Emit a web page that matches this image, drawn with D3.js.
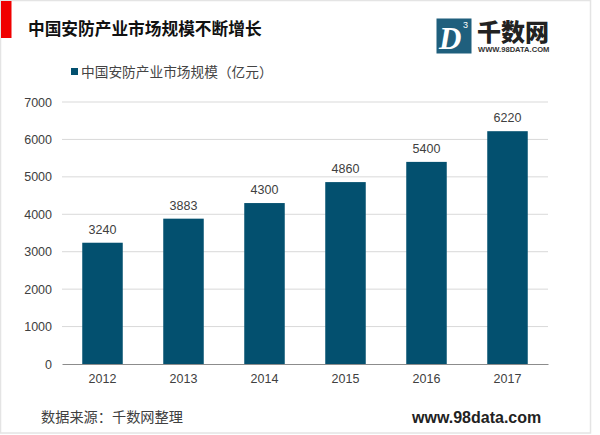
<!DOCTYPE html>
<html><head><meta charset="utf-8">
<script src="https://cdn.jsdelivr.net/npm/d3@7/dist/d3.min.js"></script>
<style>html,body{margin:0;padding:0;background:#fff}svg{display:block}
text{font-family:"Liberation Sans","Noto Sans CJK SC",sans-serif}</style></head>
<body><svg id="c" width="600" height="435"></svg>
<script>
const categories = ["2012","2013","2014","2015","2016","2017"];
const seriesValues = [3240,3883,4300,4860,5400,6220];
const yTicks = [0,1000,2000,3000,4000,5000,6000,7000];
const titleText = "中国安防产业市场规模不断增长";
const seriesName = "中国安防产业市场规模\uFF08亿元\uFF09";
const sourceText = "数据来源\uFF1A千数网整理";
const siteText = "www.98data.com";

const svg = d3.select("#c");
const barColor = "#03506f";
const x = d3.scaleBand().domain(categories).range([62,548]).paddingInner(0.5).paddingOuter(0.25);
const y = d3.scaleLinear().domain([0,7000]).range([364,102]);

// frame
svg.append("rect").attr("x",0.5).attr("y",0.5).attr("width",590).attr("height",432.5)
  .attr("fill","#fff").attr("stroke","#e4e4e4").attr("stroke-width",1.5);
// red marker
svg.append("rect").attr("x",1).attr("y",1).attr("width",10.5).attr("height",37).attr("fill","#f00000");
svg.append("text").attr("x",28).attr("y",35).attr("font-size",16.7).attr("font-weight",700).attr("fill","#111").text(titleText);

// legend
svg.append("rect").attr("x",71).attr("y",68).attr("width",7).attr("height",7).attr("fill",barColor);
svg.append("text").attr("x",81).attr("y",76.5).attr("font-size",13.7).attr("fill","#444").text(seriesName);

// gridlines
svg.append("g").selectAll("line").data(yTicks.filter(d=>d>0)).join("line")
  .attr("x1",62).attr("x2",548).attr("y1",d=>y(d)).attr("y2",d=>y(d))
  .attr("stroke","#d9d9d9").attr("stroke-width",1);

// y axis
const gy = svg.append("g").attr("transform","translate(62,0)")
  .call(d3.axisLeft(y).tickValues(yTicks).tickSize(0).tickPadding(10).tickFormat(d3.format("d")));
gy.select(".domain").remove();
gy.selectAll("text").attr("font-size",12.5).attr("fill","#404040").style("font-family",'"Liberation Sans",sans-serif');

// bars
svg.append("g").selectAll("rect").data(seriesValues).join("rect")
  .attr("x",(d,i)=>x(categories[i])).attr("width",x.bandwidth())
  .attr("y",d=>y(d)).attr("height",d=>y(0)-y(d)).attr("fill",barColor);

// value labels
svg.append("g").selectAll("text").data(seriesValues).join("text")
  .attr("x",(d,i)=>x(categories[i])+x.bandwidth()/2).attr("y",d=>y(d)-9)
  .attr("text-anchor","middle").attr("font-size",12.5).attr("fill","#404040").text(d=>d);

// x axis
const gx = svg.append("g").attr("transform","translate(0,364)")
  .call(d3.axisBottom(x).tickSize(0).tickPadding(10));
gx.select(".domain").attr("stroke","#8c8c8c").attr("stroke-width",1);
gx.selectAll("text").attr("font-size",12.5).attr("fill","#404040").style("font-family",'"Liberation Sans",sans-serif');

// footer
svg.append("text").attr("x",41).attr("y",422).attr("font-size",14.2).attr("fill","#404040").text(sourceText);
svg.append("text").attr("x",412).attr("y",423).attr("font-size",16).attr("font-weight",700).attr("fill","#222").text(siteText);

// logo
const logo = svg.append("g");
logo.append("rect").attr("x",436.5).attr("y",18.5).attr("width",35).attr("height",35).attr("fill","#1f5f7d");
logo.append("text").attr("x",439).attr("y",49).attr("font-size",31).attr("font-weight",700).attr("font-style","italic")
  .attr("fill","#fff").style("font-family",'"Liberation Serif",serif').text("D");
logo.append("text").attr("x",463).attr("y",28).attr("font-size",9).attr("fill","#fff").text("3");
logo.append("text").attr("x",477).attr("y",41).attr("font-size",24).attr("font-weight",900).attr("fill","#222").text("千数网");
logo.append("text").attr("x",478).attr("y",52).attr("font-size",7.6).attr("font-weight",700).attr("fill","#333").text("WWW.98DATA.COM");
</script></body></html>
